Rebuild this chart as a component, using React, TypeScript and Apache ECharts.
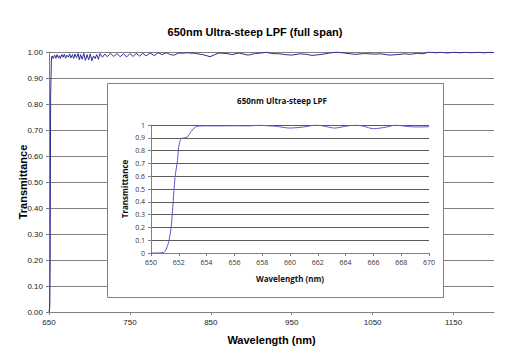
import React, { useEffect, useRef } from "react";
import * as echarts from "echarts";

const mainTitle = "650nm Ultra-steep LPF (full span)";
const insetTitle = "650nm Ultra-steep LPF";
const xName = "Wavelength (nm)";
const yName = "Transmittance";

// Full span curve (wavelength nm, transmittance)
const mainWavelength = [
  650, 651, 651.5, 652, 653, 654, 655, 657, 658.5, 660, 661.5, 663, 664, 666, 667.5, 669, 670.5, 672, 674,
  675.5, 677, 679, 680.5, 682, 684, 686, 687.5, 689, 691, 693, 695, 697, 699, 701, 703, 705, 707, 709, 711,
  713, 716, 719, 722, 726, 730, 734, 738, 742, 746, 750, 754, 758, 762, 766, 770, 775, 780, 785, 790, 795,
  800, 805, 810, 815, 820, 830, 840, 849, 855, 860, 870, 876, 885, 896, 905, 912, 919, 925, 935, 942, 950,
  960, 968, 975, 985, 995, 1005, 1015, 1028, 1040, 1052, 1060, 1071, 1080, 1090, 1096, 1105, 1112, 1120,
  1128, 1135, 1142, 1150, 1158, 1165, 1172, 1180, 1188, 1195, 1200,
];
const mainTransmittance = [
  0.0, 0.02, 0.2, 0.83, 0.98, 0.985, 0.975, 0.988, 0.976, 0.99, 0.978, 0.986, 0.975, 0.99, 0.98, 0.992, 0.976,
  0.988, 0.98, 0.993, 0.977, 0.99, 0.975, 0.992, 0.978, 0.994, 0.97, 0.99, 0.972, 0.995, 0.968, 0.99, 0.97,
  0.993, 0.966, 0.985, 0.975, 0.99, 0.972, 0.994, 0.98, 0.992, 0.982, 0.995, 0.983, 0.994, 0.982, 0.993,
  0.981, 0.994, 0.983, 0.995, 0.984, 0.995, 0.985, 0.996, 0.986, 0.997, 0.99, 0.997, 0.99, 0.988, 0.996,
  0.995, 0.997, 0.995, 0.99, 0.982, 0.99, 0.996, 0.994, 0.99, 0.996, 0.988, 0.994, 0.996, 0.999, 0.994,
  0.993, 0.99, 0.988, 0.993, 0.991, 0.987, 0.99, 0.995, 1.0, 0.996, 0.991, 0.994, 0.992, 0.993, 0.988, 0.99,
  0.993, 0.991, 0.995, 0.993, 1.0, 0.997, 0.999, 0.996, 0.999, 0.997, 0.999, 0.997, 0.999, 0.997, 0.999,
  0.998,
];

// Inset (zoomed) curve
const insetWavelength = [
  650, 650.5, 650.9, 651.05, 651.2, 651.3, 651.45, 651.6, 651.73, 651.9, 652.0, 652.15, 652.4, 652.6, 652.9,
  653.2, 653.5, 654, 655, 656, 657, 657.8, 658.5, 659, 660, 661, 661.9, 662.5, 663.2, 664, 664.7, 665.3,
  666, 667, 667.6, 668.3, 669, 669.6, 670,
];
const insetTransmittance = [
  0, 0, 0.005, 0.02, 0.06, 0.1, 0.2, 0.41, 0.59, 0.72, 0.83, 0.89, 0.9, 0.905, 0.95, 0.985, 0.992, 0.993,
  0.993, 0.994, 0.993, 0.998, 0.993, 0.99, 0.976, 0.985, 0.999, 0.99, 0.976, 0.99, 0.999, 0.99, 0.971,
  0.985, 0.999, 0.99, 0.985, 0.985, 0.987,
];

const arial = "'Liberation Sans', Arial, sans-serif";
const insetFont = "'Open Sans', 'DejaVu Sans', sans-serif";

export default function App() {
  const ref = useRef<HTMLDivElement>(null);
  useEffect(() => {
    if (!ref.current) return;
    const chart = echarts.init(ref.current, undefined, { renderer: "svg" });
    const mainData = mainWavelength.map((w, i) => [w, mainTransmittance[i]]);
    const insetData = insetWavelength.map((w, i) => [w, insetTransmittance[i]]);
    chart.setOption({
      animation: false,
      backgroundColor: "#ffffff",
      title: [
        {
          text: mainTitle,
          left: "center",
          top: 21,
          textStyle: { fontFamily: arial, fontSize: 11, fontWeight: "bold", color: "#000" },
        },
        {
          text: insetTitle,
          left: 277,
          textAlign: "center",
          top: 91,
          z: 10,
          textStyle: { fontFamily: insetFont, fontSize: 8, fontWeight: "bold", color: "#111" },
        },
      ],
      graphic: [
        {
          type: "rect",
          z: 3,
          shape: { x: 107.5, y: 83.5, width: 336, height: 214 },
          style: { fill: "#ffffff", stroke: "#808080", lineWidth: 1 },
        },
      ],
      grid: [
        { left: 49, top: 52, right: 16, bottom: 48 },
        { left: 151, top: 125, right: 81, bottom: 107, z: 5 },
      ],
      xAxis: [
        {
          type: "value",
          gridIndex: 0,
          min: 650,
          max: 1200,
          interval: 100,
          name: xName,
          nameLocation: "middle",
          nameGap: 22,
          nameMoveOverlap: false,
          nameTextStyle: { fontFamily: arial, fontSize: 11, fontWeight: "bold", color: "#000" },
          axisLine: { lineStyle: { color: "#808080" } },
          axisTick: { show: true, length: 3, lineStyle: { color: "#808080" } },
          axisLabel: {
            showMaxLabel: false,
            fontFamily: arial,
            fontSize: 8,
            color: "#222",
            margin: 6,
            formatter: (v: number) => String(v),
          },
          splitLine: { show: false },
        },
        {
          type: "value",
          gridIndex: 1,
          min: 650,
          max: 670,
          interval: 2,
          z: 6,
          name: xName,
          nameLocation: "middle",
          nameGap: 21,
          nameMoveOverlap: false,
          nameTextStyle: { fontFamily: insetFont, fontSize: 8, fontWeight: "bold", color: "#111" },
          axisLine: { lineStyle: { color: "#808080" } },
          axisTick: { show: true, length: 3, lineStyle: { color: "#808080" } },
          axisLabel: { fontFamily: insetFont, fontSize: 7, color: "#333", margin: 6 },
          splitLine: { show: false },
        },
      ],
      yAxis: [
        {
          type: "value",
          gridIndex: 0,
          min: 0,
          max: 1,
          interval: 0.1,
          name: yName,
          nameLocation: "middle",
          nameGap: 21,
          nameMoveOverlap: false,
          nameTextStyle: { fontFamily: arial, fontSize: 11, fontWeight: "bold", color: "#000" },
          axisLine: { show: true, lineStyle: { color: "#808080" } },
          axisTick: { show: true, length: 3, lineStyle: { color: "#808080" } },
          axisLabel: {
            fontFamily: arial,
            fontSize: 8,
            color: "#222",
            margin: 6,
            formatter: (v: number) => v.toFixed(2),
          },
          splitLine: { show: true, lineStyle: { color: "#808080", width: 1 } },
        },
        {
          type: "value",
          gridIndex: 1,
          min: 0,
          max: 1,
          interval: 0.1,
          z: 6,
          name: yName,
          nameLocation: "middle",
          nameGap: 23,
          nameMoveOverlap: false,
          nameTextStyle: { fontFamily: insetFont, fontSize: 8, fontWeight: "bold", color: "#111" },
          axisLine: { show: true, lineStyle: { color: "#808080" } },
          axisTick: { show: true, length: 3, lineStyle: { color: "#808080" } },
          axisLabel: { fontFamily: insetFont, fontSize: 7, color: "#333", margin: 6 },
          splitLine: { show: true, lineStyle: { color: "#5a5a5a", width: 1 } },
        },
      ],
      series: [
        {
          type: "line",
          xAxisIndex: 0,
          yAxisIndex: 0,
          data: mainData,
          showSymbol: false,
          z: 2,
          lineStyle: { color: "#2d2d96", width: 1 },
        },
        {
          type: "line",
          xAxisIndex: 1,
          yAxisIndex: 1,
          data: insetData,
          showSymbol: false,
          smooth: 0.3,
          z: 8,
          lineStyle: { color: "#5b5bc8", width: 1 },
        },
      ],
    });
    return () => chart.dispose();
  }, []);
  return (
    <div
      ref={ref}
      style={{ position: "fixed", left: 0, top: 0, width: 510, height: 360, background: "#fff" }}
    />
  );
}
